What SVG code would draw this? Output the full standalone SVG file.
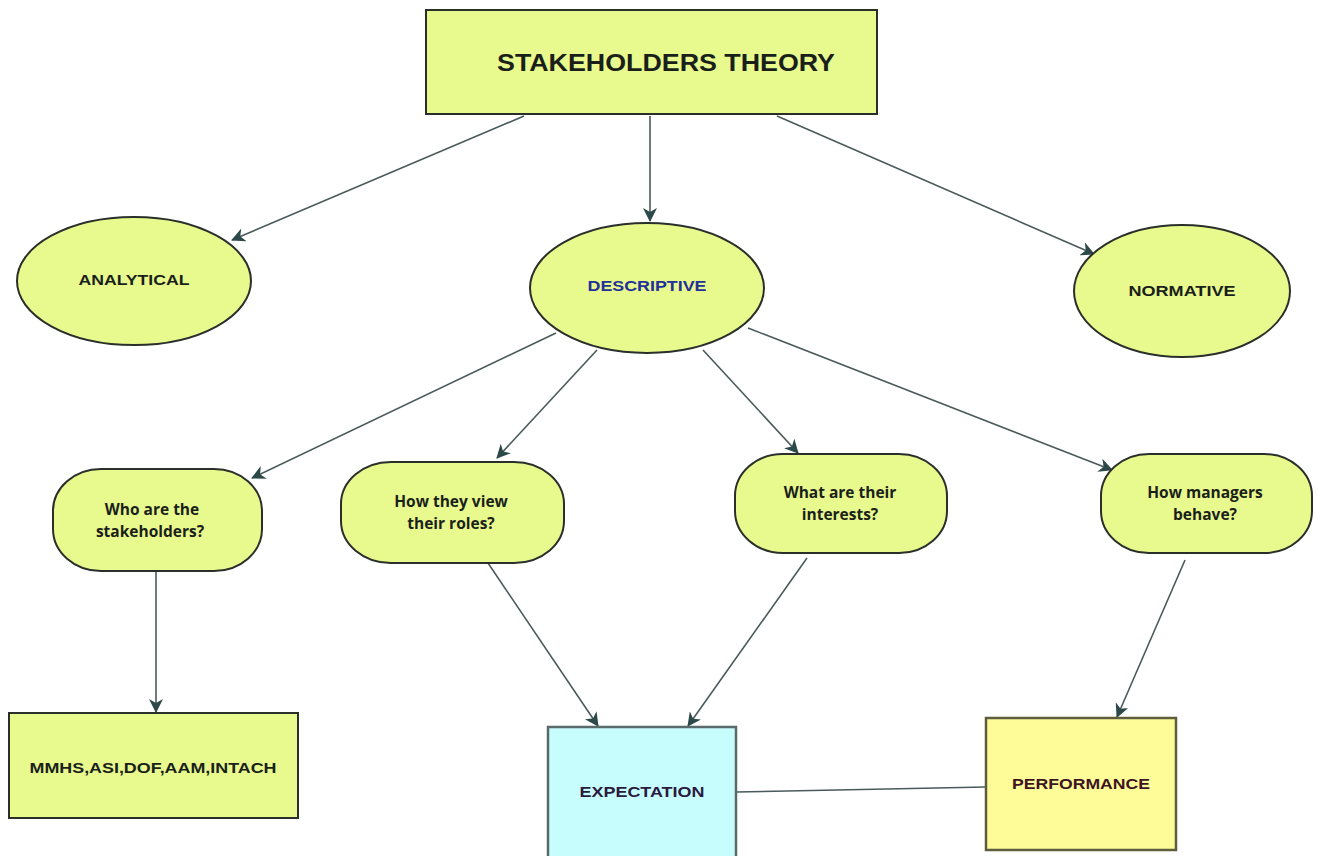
<svg xmlns="http://www.w3.org/2000/svg" width="1319" height="856" viewBox="0 0 1319 856">
<style>
.n{fill:#e8f98e;stroke:#2a2f2a;stroke-width:2}
.t{font-family:"Liberation Sans",Arial,sans-serif;font-weight:bold;font-size:15px;fill:#1a1f1a;text-anchor:middle;dominant-baseline:central}
.q{font-family:"Open Sans","Liberation Sans",sans-serif;font-weight:bold;font-size:15.5px;fill:#1a1f1a;text-anchor:middle}
.c{stroke:#4a5a5a;stroke-width:1.6;fill:none}
.ca{stroke:#4a5a5a;stroke-width:1.6;fill:none;marker-end:url(#ah)}
</style>
<defs>
<marker id="ah" viewBox="0 0 14 14" refX="13" refY="7" markerWidth="14" markerHeight="14" markerUnits="userSpaceOnUse" orient="auto">
<path d="M0,0 L14,7 L0,14 L4,7 Z" fill="#2c4848"/>
</marker>
</defs>
<rect width="1319" height="856" fill="#ffffff"/>
<g id="connectors">
<line class="ca" x1="524" y1="116" x2="232" y2="240"/>
<line class="ca" x1="650" y1="116" x2="650" y2="221"/>
<line class="ca" x1="777" y1="116" x2="1094" y2="254"/>
<line class="ca" x1="556" y1="333" x2="252" y2="478"/>
<line class="ca" x1="597" y1="350" x2="497" y2="458"/>
<line class="ca" x1="703" y1="350" x2="798" y2="453"/>
<line class="ca" x1="748" y1="328" x2="1112" y2="470"/>
<line class="ca" x1="156" y1="571" x2="156" y2="712"/>
<line class="ca" x1="488" y1="563" x2="598" y2="726"/>
<line class="ca" x1="807" y1="558" x2="688" y2="726"/>
<line class="ca" x1="1185" y1="560" x2="1117" y2="717"/>
<line class="c" x1="736" y1="792" x2="986" y2="787"/>
</g>
<g id="theory">
<rect class="n" x="426" y="10" width="451" height="104"/>
<text class="t" x="666" y="63" style="font-size:23px" textLength="338" lengthAdjust="spacingAndGlyphs">STAKEHOLDERS THEORY</text>
</g>
<g id="analytical">
<ellipse class="n" cx="134" cy="281" rx="117" ry="64"/>
<text class="t" x="134" y="279" textLength="111" lengthAdjust="spacingAndGlyphs">ANALYTICAL</text>
</g>
<g id="descriptive">
<ellipse class="n" cx="647" cy="288" rx="117" ry="65"/>
<text class="t" x="647" y="285" style="fill:#23309a" textLength="119" lengthAdjust="spacingAndGlyphs">DESCRIPTIVE</text>
</g>
<g id="normative">
<ellipse class="n" cx="1182" cy="291" rx="108" ry="66"/>
<text class="t" x="1182" y="290" textLength="107" lengthAdjust="spacingAndGlyphs">NORMATIVE</text>
</g>
<g id="who">
<rect class="n" x="53" y="469" width="209" height="102" rx="48" ry="42"/>
<text class="q" x="152" y="515">Who are the</text>
<text class="q" x="150" y="537">stakeholders?</text>
</g>
<g id="view">
<rect class="n" x="341" y="462" width="223" height="101" rx="50" ry="42"/>
<text class="q" x="451" y="507">How they view</text>
<text class="q" x="451" y="529">their roles?</text>
</g>
<g id="interests">
<rect class="n" x="735" y="454" width="212" height="99" rx="48" ry="42"/>
<text class="q" x="840" y="498">What are their</text>
<text class="q" x="840" y="520">interests?</text>
</g>
<g id="managers">
<rect class="n" x="1101" y="454" width="211" height="99" rx="48" ry="42"/>
<text class="q" x="1205" y="498">How managers</text>
<text class="q" x="1205" y="520">behave?</text>
</g>
<g id="mmhs">
<rect class="n" x="9" y="713" width="289" height="105"/>
<text class="t" x="153" y="767" textLength="247" lengthAdjust="spacingAndGlyphs">MMHS,ASI,DOF,AAM,INTACH</text>
</g>
<g id="expectation">
<rect x="548" y="727" width="188" height="135" fill="#c8fdfd" stroke="#5a6a6a" stroke-width="2.5"/>
<text class="t" x="642" y="791" style="fill:#2a1a3e" textLength="125" lengthAdjust="spacingAndGlyphs">EXPECTATION</text>
</g>
<g id="performance">
<rect x="986" y="718" width="190" height="132" fill="#fdfc98" stroke="#5e5e3e" stroke-width="2.5"/>
<text class="t" x="1081" y="783" style="fill:#3e1424" textLength="138" lengthAdjust="spacingAndGlyphs">PERFORMANCE</text>
</g>
</svg>
